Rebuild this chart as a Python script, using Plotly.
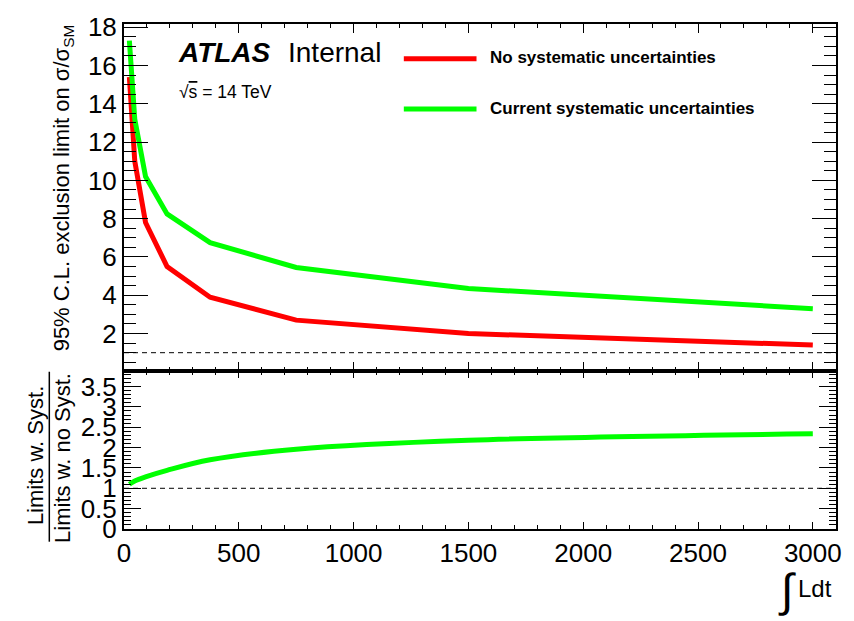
import plotly.graph_objects as go

# ---------------- data ----------------
lumi = [23.4, 46.9, 93.8, 187.5, 375, 750, 1500, 3000]
limit_no_syst = [15.4, 11.0, 7.8, 5.5, 3.9, 2.7, 2.0, 1.4]
limit_cur_syst = [17.3, 13.2, 10.2, 8.25, 6.75, 5.45, 4.35, 3.3]
ratio_syst = [1.10, 1.18, 1.28, 1.44, 1.70, 1.96, 2.18, 2.34]
series_names = ["No systematic uncertainties", "Current systematic uncertainties"]
reference_level = 1.0

# ---------------- layout geometry ----------------
W, H = 854, 621
ML, MR, MT, MB = 124, 15, 12, 92
PW, PH = W - ML - MR, H - MT - MB
SPLIT = (H - MB - 367.3) / PH


def px(x):
    return (x - ML) / PW


def py(y):
    return (H - MB - y) / PH


FONT = "Liberation Sans, Arial, Helvetica, sans-serif"
RED = "#ff0000"
GREEN = "#00ff00"

fig = go.Figure()

fig.add_trace(go.Scatter(x=lumi, y=limit_no_syst, mode="lines", name=series_names[0],
                         line=dict(color=RED, width=5), xaxis="x", yaxis="y", showlegend=False))
fig.add_trace(go.Scatter(x=lumi, y=limit_cur_syst, mode="lines", name=series_names[1],
                         line=dict(color=GREEN, width=5), xaxis="x", yaxis="y", showlegend=False))
fig.add_trace(go.Scatter(x=lumi, y=ratio_syst, mode="lines", name="Ratio",
                         line=dict(color=GREEN, width=5, shape="spline"), xaxis="x2", yaxis="y2",
                         showlegend=False))

common_axis = dict(showline=True, linecolor="black", linewidth=2, mirror="allticks",
                   ticks="inside", tickcolor="black", tickwidth=1, showgrid=False,
                   zeroline=False, tickfont=dict(family=FONT, size=26, color="black"))

fig.update_layout(
    width=W, height=H,
    margin=dict(l=ML, r=MR, t=MT, b=MB),
    paper_bgcolor="white", plot_bgcolor="white",
    font=dict(family=FONT, color="black"),
    xaxis=dict(**common_axis, domain=[0, 1], anchor="y", matches="x2", range=[0, 3101],
               tickmode="linear", tick0=0, dtick=500, ticklen=9, showticklabels=False,
               minor=dict(ticks="inside", ticklen=4, dtick=100, tick0=0, tickcolor="black",
                          showgrid=False)),
    yaxis=dict(**common_axis, domain=[SPLIT, 1], anchor="x", range=[0.041, 18.17],
               tickmode="linear", tick0=0, dtick=2, ticklen=24,
               minor=dict(ticks="inside", ticklen=12, dtick=0.5, tick0=0, tickcolor="black",
                          showgrid=False)),
    xaxis2=dict(**common_axis, domain=[0, 1], anchor="y2", range=[0, 3101],
                tickmode="linear", tick0=0, dtick=500, ticklen=7,
                minor=dict(ticks="inside", ticklen=4, dtick=100, tick0=0, tickcolor="black",
                           showgrid=False)),
    yaxis2=dict(**common_axis, domain=[0, SPLIT], anchor="x2", range=[0, 3.88],
                tickmode="linear", tick0=0, dtick=0.5, ticklen=17,
                minor=dict(ticks="inside", ticklen=7, dtick=0.1, tick0=0, tickcolor="black",
                           showgrid=False)),
)

shapes = [
    dict(type="line", xref="x domain", x0=0, x1=1, yref="y", y0=reference_level, y1=reference_level,
         line=dict(color="black", width=1, dash="5px,4px")),
    dict(type="line", xref="x2 domain", x0=0, x1=1, yref="y2", y0=reference_level, y1=reference_level,
         line=dict(color="black", width=1, dash="5px,4px")),
    # legend samples
    dict(type="line", xref="paper", yref="paper", x0=px(405), x1=px(478), y0=py(47.5), y1=py(47.5),
         line=dict(color=RED, width=5)),
    dict(type="line", xref="paper", yref="paper", x0=px(405), x1=px(478), y0=py(99), y1=py(99),
         line=dict(color=GREEN, width=5)),
    # fraction bar of ratio axis title
    dict(type="line", xref="paper", yref="paper", x0=px(49), x1=px(49), y0=py(368), y1=py(542),
         line=dict(color="black", width=1.5)),
]
fig.update_layout(shapes=shapes)

ann = [
    dict(text="<b><i>ATLAS</i></b>", x=px(176), y=py(41.5), xanchor="left", yanchor="middle",
         font=dict(size=28)),
    dict(text="Internal", x=px(287), y=py(41.5), xanchor="left", yanchor="middle",
         font=dict(size=28)),
    dict(text="√<span style='text-decoration:overline'>s</span> = 14 TeV", x=px(177), y=py(81.5),
         xanchor="left", yanchor="middle", font=dict(size=17.5)),
    dict(text="<b>" + series_names[0] + "</b>", x=px(490), y=py(46.5), xanchor="left",
         yanchor="middle", font=dict(size=17)),
    dict(text="<b>" + series_names[1] + "</b>", x=px(490), y=py(98.5), xanchor="left",
         yanchor="middle", font=dict(size=17)),
    dict(text="95% C.L. exclusion limit on σ/σ<sub>SM</sub>", x=px(63), y=py(180),
         xanchor="center", yanchor="middle", textangle=-90, font=dict(size=22)),
    dict(text="Limits w. Syst.", x=px(35), y=py(454), xanchor="center", yanchor="middle",
         textangle=-90, font=dict(size=22)),
    dict(text="Limits w. no Syst.", x=px(62), y=py(456), xanchor="center", yanchor="middle",
         textangle=-90, font=dict(size=22)),
    dict(text="∫", x=px(790), y=py(591), xanchor="center", yanchor="middle",
         font=dict(size=46)),
    dict(text="Ldt", x=px(799), y=py(590), xanchor="left", yanchor="middle",
         font=dict(size=24)),
]
for a in ann:
    a.update(xref="paper", yref="paper", showarrow=False)
    a["font"].update(family=FONT, color="black")
fig.update_layout(annotations=ann)

fig.write_html("out.html")
